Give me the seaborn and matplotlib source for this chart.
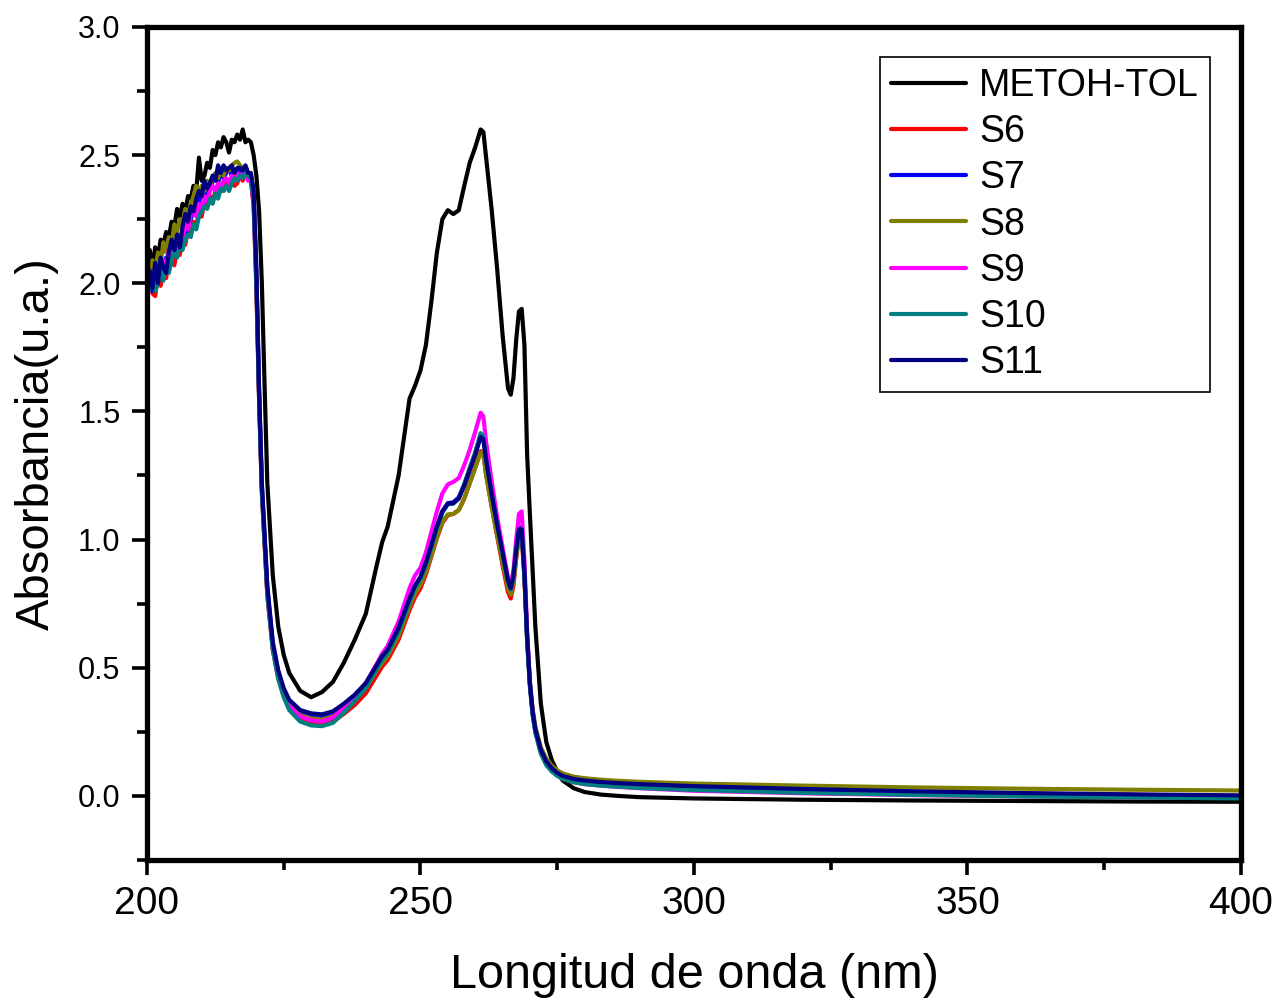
import numpy as np
import pandas as pd
import matplotlib
matplotlib.use("Agg")
import matplotlib.pyplot as plt
import seaborn as sns
from matplotlib.ticker import MultipleLocator, FormatStrFormatter

nan = np.nan

# wavelength grid (nm): noisy part at 0.5 nm, then the smooth part
wl = [200.0, 200.5, 201.0, 201.5, 202.0, 202.5, 203.0, 203.5, 204.0, 204.5,
      205.0, 205.5, 206.0, 206.5, 207.0, 207.5, 208.0, 208.5, 209.0, 209.5,
      210.0, 210.5, 211.0, 211.5, 212.0, 212.5, 213.0, 213.5, 214.0, 214.5,
      215.0, 215.5, 216.0, 216.5, 217.0, 217.5, 218.0, 218.5, 219.0, 219.5,
      220, 220.5, 221, 221.5, 222, 223, 224, 225, 226,
      228, 230, 232, 234, 236, 238, 240, 242,
      243, 244, 246, 248,
      249, 250, 251, 252, 253, 254, 255, 256, 257, 258, 259, 260, 261,
      261.5, 262, 263, 264, 265, 266,
      266.5, 267, 267.5, 268, 268.5, 269, 269.5, 270, 270.5, 271,
      272, 273, 274, 275, 276,
      278, 280, 283, 286, 287, 290,
      300, 320, 340, 360, 380, 400]

metoh_tol = [2.02, 2.13, 2.06, 2.14, 2.10, 2.17, 2.15, 2.20, 2.18, 2.24,
             2.22, 2.29, 2.26, 2.31, 2.28, 2.34, 2.33, 2.38, 2.36, 2.49,
             2.40, 2.42, 2.47, 2.45, 2.52, 2.50, 2.55, 2.53, 2.57, 2.55,
             2.51, 2.56, 2.55, 2.58, 2.56, 2.60, 2.55, 2.56, 2.55, 2.50,
             2.42, 2.28, 2.00, 1.60, 1.22, 0.86, 0.66, 0.55, 0.48,
             0.41, 0.385, 0.405, 0.445, 0.52, 0.61, 0.71, 0.90,
             0.99, 1.05, 1.25, 1.55,
             1.60, 1.66, 1.76, 1.93, 2.12, 2.25, 2.285, 2.27, 2.285, 2.38, 2.47, 2.53, 2.60,
             2.59, 2.49, 2.29, 2.06, 1.80, 1.59,
             1.565, 1.63, 1.78, 1.89, 1.90, 1.76, 1.33, 1.10, 0.88, 0.66,
             0.36, 0.21, 0.14, 0.095, 0.06,
             0.03, 0.015, 0.005, 0.0, nan, -0.005,
             -0.01, -0.015, -0.018, -0.02, -0.022, -0.023]

s6 = [1.94, 2.01, 1.96, 1.95, 2.03, 1.99, 2.05, 2.02, 2.08, 2.10,
      2.07, 2.13, 2.11, 2.17, 2.15, 2.21, 2.19, 2.24, 2.22, 2.28,
      2.26, 2.32, 2.30, 2.34, 2.32, 2.36, 2.34, 2.37, 2.36, 2.39,
      2.37, 2.40, 2.38, 2.39, 2.42, 2.40, 2.43, 2.41, 2.40, 2.30,
      1.98, 1.54, 1.18, 0.98, 0.78, 0.57, 0.46, 0.39, 0.345,
      0.30, 0.285, 0.28, 0.29, 0.32, 0.355, 0.40, 0.47,
      0.505, 0.53, 0.61, 0.725,
      0.775, 0.81, 0.865, 0.935, 1.005, 1.065, 1.095, 1.10, 1.115, 1.16, 1.22, 1.28, 1.345,
      1.335, 1.255, 1.13, 1.015, 0.90, 0.795,
      0.77, 0.82, 0.925, 1.01, 1.015, 0.85, 0.61, 0.435, 0.33, 0.26,
      0.18, 0.135, 0.108, 0.09, 0.078,
      0.065, 0.058, 0.052, 0.047, 0.046, 0.043,
      0.035, 0.024, 0.015, 0.009, 0.004, 0.0]

s7 = [1.95, 2.02, 1.97, 2.05, 2.01, 2.07, 2.03, 2.10, 2.06, 2.14,
      2.11, 2.16, 2.13, 2.20, 2.18, 2.23, 2.25, 2.29, 2.27, 2.32,
      2.35, 2.33, 2.38, 2.36, 2.40, 2.42, 2.39, 2.44, 2.41, 2.43,
      2.45, 2.42, 2.44, 2.43, 2.45, 2.42, 2.44, 2.43, 2.42, 2.34,
      2.04, 1.57, 1.21, 1.01, 0.81, 0.59, 0.48, 0.41, 0.365,
      0.325, 0.312, 0.308, 0.32, 0.352, 0.39, 0.435, 0.505,
      0.54, 0.565, 0.65, 0.765,
      0.815, 0.85, 0.905, 0.975, 1.05, 1.11, 1.142, 1.145, 1.165, 1.215, 1.275, 1.335, 1.41,
      1.40, 1.315, 1.185, 1.065, 0.95, 0.84,
      0.815, 0.865, 0.965, 1.045, 1.05, 0.875, 0.62, 0.44, 0.325, 0.255,
      0.175, 0.13, 0.104, 0.087, 0.075,
      0.062, 0.055, 0.049, 0.045, 0.044, 0.04,
      0.032, 0.021, 0.013, 0.007, 0.002, -0.002]

s8 = [2.02, 2.00, 2.09, 2.04, 2.12, 2.08, 2.16, 2.12, 2.18, 2.15,
      2.23, 2.20, 2.25, 2.22, 2.29, 2.27, 2.31, 2.34, 2.38, 2.35,
      2.38, 2.36, 2.40, 2.38, 2.41, 2.43, 2.41, 2.44, 2.42, 2.45,
      2.44, 2.46, 2.47, 2.475, 2.46, 2.45, 2.44, 2.42, 2.41, 2.33,
      2.00, 1.55, 1.19, 0.99, 0.79, 0.58, 0.47, 0.40, 0.355,
      0.315, 0.302, 0.298, 0.31, 0.34, 0.375, 0.42, 0.49,
      0.52, 0.545, 0.625, 0.74,
      0.79, 0.825, 0.875, 0.94, 1.01, 1.07, 1.098, 1.10, 1.115, 1.16, 1.22, 1.28, 1.34,
      1.33, 1.25, 1.13, 1.02, 0.91, 0.81,
      0.785, 0.835, 0.935, 1.02, 1.025, 0.86, 0.62, 0.445, 0.34, 0.27,
      0.19, 0.145, 0.118, 0.10, 0.088,
      0.075, 0.069, 0.063, 0.059, 0.058, 0.055,
      0.048, 0.040, 0.033, 0.028, 0.024, 0.021]

s9 = [1.97, 1.99, 2.03, 2.00, 2.06, 2.03, 2.09, 2.06, 2.13, 2.11,
      2.16, 2.14, 2.19, 2.17, 2.23, 2.21, 2.27, 2.29, 2.26, 2.31,
      2.29, 2.34, 2.32, 2.36, 2.38, 2.36, 2.39, 2.37, 2.40, 2.41,
      2.39, 2.42, 2.40, 2.43, 2.41, 2.43, 2.42, 2.40, 2.40, 2.31,
      2.02, 1.56, 1.20, 1.00, 0.80, 0.58, 0.465, 0.40, 0.35,
      0.31, 0.295, 0.29, 0.305, 0.345, 0.39, 0.44, 0.515,
      0.555, 0.585, 0.68, 0.81,
      0.86, 0.89, 0.95, 1.03, 1.11, 1.18, 1.215, 1.225, 1.24, 1.29, 1.35, 1.42, 1.495,
      1.48, 1.38, 1.23, 1.09, 0.97, 0.85,
      0.825, 0.88, 1.00, 1.10, 1.11, 0.92, 0.64, 0.44, 0.32, 0.25,
      0.17, 0.125, 0.098, 0.08, 0.068,
      0.054, 0.046, 0.04, 0.035, 0.034, 0.03,
      0.02, 0.01, 0.003, -0.002, -0.005, -0.008]

s10 = [1.96, 1.98, 2.02, 1.97, 2.00, 2.05, 2.01, 2.07, 2.04, 2.09,
       2.12, 2.10, 2.15, 2.13, 2.17, 2.19, 2.18, 2.23, 2.21, 2.26,
       2.28, 2.30, 2.29, 2.33, 2.31, 2.35, 2.33, 2.37, 2.36, 2.38,
       2.36, 2.39, 2.41, 2.40, 2.42, 2.41, 2.43, 2.42, 2.41, 2.32,
       2.00, 1.55, 1.19, 0.99, 0.79, 0.57, 0.455, 0.385, 0.335,
       0.29, 0.275, 0.272, 0.285, 0.325, 0.37, 0.42, 0.495,
       0.53, 0.555, 0.64, 0.755,
       0.81, 0.845, 0.90, 0.97, 1.045, 1.105, 1.138, 1.14, 1.162, 1.215, 1.28, 1.34, 1.415,
       1.40, 1.31, 1.18, 1.06, 0.945, 0.835,
       0.805, 0.855, 0.955, 1.035, 1.04, 0.86, 0.60, 0.425, 0.315, 0.245,
       0.165, 0.12, 0.095, 0.078, 0.066,
       0.053, 0.046, 0.04, 0.036, 0.035, 0.031,
       0.023, 0.012, 0.004, -0.002, -0.006, -0.01]

s11 = [1.96, 2.05, 1.98, 2.08, 2.00, 2.10, 2.06, 2.04, 2.12, 2.17,
       2.13, 2.19, 2.14, 2.22, 2.27, 2.24, 2.30, 2.28, 2.33, 2.36,
       2.34, 2.40, 2.37, 2.39, 2.42, 2.40, 2.46, 2.43, 2.46, 2.44,
       2.45, 2.46, 2.43, 2.45, 2.45, 2.44, 2.46, 2.43, 2.43, 2.36,
       2.05, 1.58, 1.22, 1.02, 0.82, 0.60, 0.49, 0.42, 0.375,
       0.335, 0.322, 0.318, 0.33, 0.36, 0.395, 0.44, 0.51,
       0.545, 0.57, 0.655, 0.77,
       0.82, 0.855, 0.91, 0.98, 1.05, 1.11, 1.14, 1.142, 1.16, 1.21, 1.27, 1.33, 1.40,
       1.39, 1.31, 1.18, 1.06, 0.95, 0.84,
       0.81, 0.86, 0.96, 1.04, 1.04, 0.87, 0.62, 0.44, 0.33, 0.26,
       0.18, 0.135, 0.108, 0.09, 0.078,
       0.066, 0.06, 0.054, 0.05, 0.049, 0.046,
       0.038, 0.027, 0.018, 0.011, 0.006, 0.002]

series = {
    "METOH-TOL": metoh_tol,
    "S6": s6,
    "S7": s7,
    "S8": s8,
    "S9": s9,
    "S10": s10,
    "S11": s11,
}
colors = {
    "METOH-TOL": "#000000",
    "S6": "#ff0000",
    "S7": "#0000ff",
    "S8": "#808000",
    "S9": "#ff00ff",
    "S10": "#008080",
    "S11": "#000080",
}

for k, v in series.items():
    assert len(v) == len(wl), (k, len(v), len(wl))

df = pd.concat(
    [pd.DataFrame({"wl": wl, "abs": v, "muestra": k}) for k, v in series.items()],
    ignore_index=True,
)

sns.set_theme(style="ticks")
plt.rcParams["font.family"] = ["Liberation Sans", "DejaVu Sans"]
plt.rcParams.update({"text.color": "black", "axes.labelcolor": "black",
                     "xtick.color": "black", "ytick.color": "black"})

fig = plt.figure(figsize=(12.77, 10.01), dpi=100)
ax = fig.add_axes([0.1151, 0.1409, 0.8567, 0.8322])

sns.lineplot(data=df, x="wl", y="abs", hue="muestra", hue_order=list(series.keys()),
             palette=colors, estimator=None, sort=False, linewidth=3.0, ax=ax)

ax.set_xlim(200, 400)
ax.set_ylim(-0.25, 3.0)
ax.xaxis.set_major_locator(MultipleLocator(50))
ax.xaxis.set_minor_locator(MultipleLocator(25))
ax.yaxis.set_major_locator(MultipleLocator(0.5))
ax.yaxis.set_minor_locator(MultipleLocator(0.25))
ax.yaxis.set_major_formatter(FormatStrFormatter("%.1f"))
ax.set_yticks([0.0, 0.5, 1.0, 1.5, 2.0, 2.5, 3.0])

for s in ax.spines.values():
    s.set_linewidth(3.8)
    s.set_color("black")

ax.tick_params(axis="both", which="major", direction="out", length=11, width=2.6,
               color="black", labelcolor="black")
ax.tick_params(axis="both", which="minor", direction="out", length=7, width=2.6, color="black")
ax.tick_params(axis="x", which="major", labelsize=28, pad=8)
ax.tick_params(axis="y", which="major", labelsize=22, pad=8)

ax.set_xlabel("Longitud de onda (nm)", fontsize=35, labelpad=22, color="black")
ax.set_ylabel("Absorbancia(u.a.)", fontsize=34, labelpad=14, color="black")

handles, labels = ax.get_legend_handles_labels()
leg = ax.legend(handles, labels, loc="upper left", bbox_to_anchor=(0.670, 0.964),
                fontsize=27, frameon=True, fancybox=False, framealpha=1,
                edgecolor="black", borderpad=0.3, labelspacing=0.27,
                handlelength=2.0, handletextpad=0.35, borderaxespad=0)
leg.get_frame().set_linewidth(1.2)
for t in leg.get_texts():
    t.set_color("black")

fig.savefig("out.png", dpi=100, facecolor="white")
